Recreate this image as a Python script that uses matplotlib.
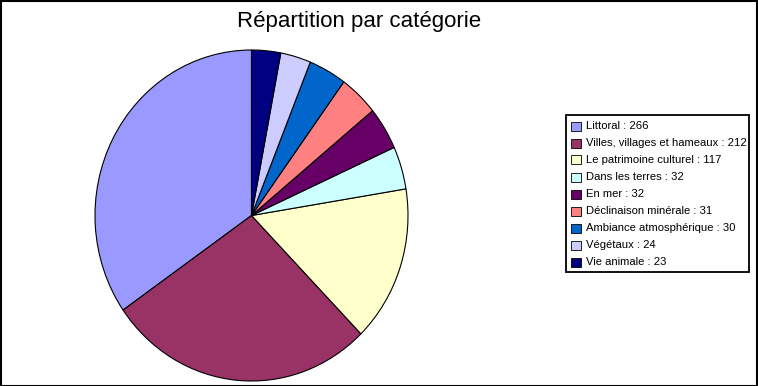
import matplotlib
matplotlib.use("Agg")
import matplotlib.pyplot as plt
from matplotlib.patches import Rectangle

W, H = 758, 386

categories = ["Littoral", "Villes, villages et hameaux", "Le patrimoine culturel",
              "Dans les terres", "En mer", "Déclinaison minérale",
              "Ambiance atmosphérique", "Végétaux", "Vie animale"]
counts = [266, 212, 117, 32, 32, 31, 30, 24, 23]
colors = ["#9999FF", "#993366", "#FFFFCC", "#CCFFFF", "#660066",
          "#FF8080", "#0066CC", "#CCCCFF", "#000080"]
title = "Répartition par catégorie"

plt.rcParams["font.family"] = ["Liberation Sans", "DejaVu Sans"]

fig = plt.figure(figsize=(W / 100, H / 100), dpi=100)
fig.patch.set_facecolor("white")


def px(x0, y0, x1, y1):
    """Pixel box (top-left origin) -> figure fraction rect."""
    return [x0 / W, 1 - y1 / H, (x1 - x0) / W, (y1 - y0) / H]


# Pie
ax = fig.add_axes(px(95, 50, 408, 381))
ax.pie(counts, colors=colors, startangle=90, counterclock=True,
       wedgeprops=dict(edgecolor="black", linewidth=0.8))
ax.set_aspect("auto")
ax.set_xlim(-1, 1)
ax.set_ylim(-1, 1)
ax.axis("off")

# Title
fig.text(359 / W, 1 - 21.5 / H, title, ha="center", va="center",
         fontsize=16, color="black")

# Legend box
lx0, ly0, lx1, ly1 = 566, 115, 749, 272
fig.patches.append(Rectangle((lx0 / W, 1 - ly1 / H), (lx1 - lx0) / W,
                             (ly1 - ly0) / H, transform=fig.transFigure,
                             facecolor="white", edgecolor="black",
                             linewidth=1.3, zorder=1))
row0, pitch = 126, 17
for i, (name, n, c) in enumerate(zip(categories, counts, colors)):
    yc = row0 + i * pitch
    fig.patches.append(Rectangle((571 / W, 1 - (yc + 4.5) / H), 10 / W, 9 / H,
                                 transform=fig.transFigure, facecolor=c,
                                 edgecolor="black", linewidth=0.6, zorder=2))
    fig.text(586 / W, 1 - yc / H, f"{name} : {n}", ha="left", va="center",
             fontsize=8.1, color="black", zorder=3)

# Outer frame
fig.patches.append(Rectangle((0.5 / W, 0.5 / H), (W - 1.5) / W, (H - 1.5) / H,
                             transform=fig.transFigure, facecolor="none",
                             edgecolor="black", linewidth=1.5, zorder=5))

fig.savefig("out.png", dpi=100, facecolor="white")
